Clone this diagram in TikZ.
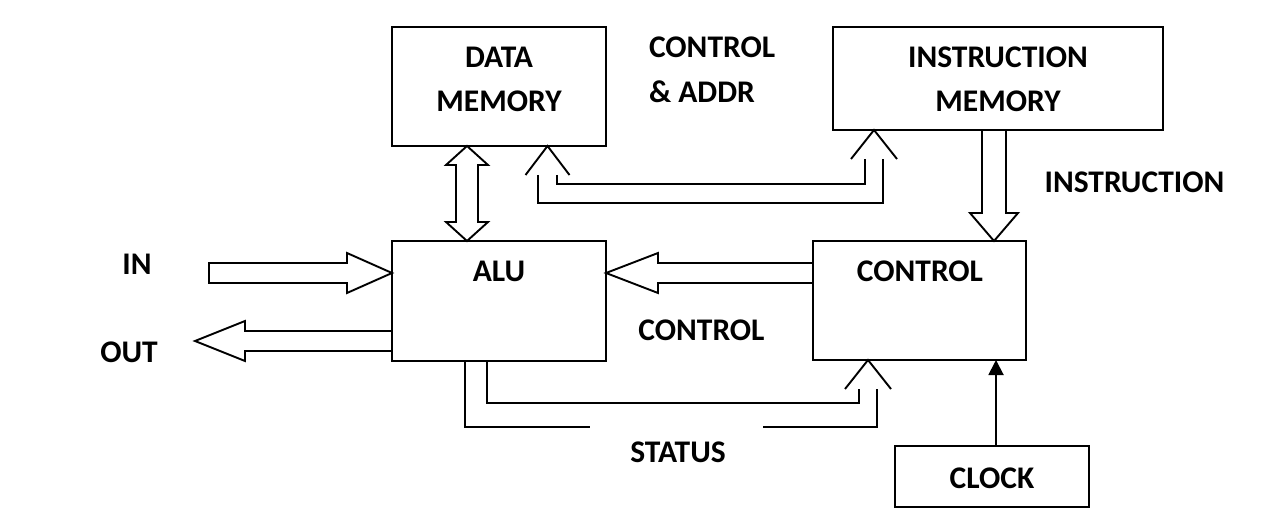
\documentclass[tikz,border=0pt]{standalone}
\usepackage{fontspec}
\setmainfont{Carlito}
\usetikzlibrary{calc,arrows.meta}
\tikzset{
  blk/.style={draw, line width=1.9pt, inner sep=0pt, outer sep=0pt},
  lbl/.style={inner sep=0pt, outer sep=0pt, anchor=base, font=\fontsize{31.5}{38}\selectfont\bfseries},
  lblw/.style={lbl, anchor=base west},
  wire/.style={line width=1.9pt},
}
\begin{document}
\begin{tikzpicture}[x=1pt,y=-1pt]
\useasboundingbox[fill=white] (0,0) rectangle (1273,518);
% boxes
\node[blk, minimum width=214pt, minimum height=119pt] (dm) at (499,86.5) {};
\node[blk, minimum width=330pt, minimum height=103pt] (im) at (998,78.5) {};
\node[blk, minimum width=214pt, minimum height=120pt] (alu) at (499,301) {};
\node[blk, minimum width=213pt, minimum height=119pt] (ctrl) at (919.5,300.5) {};
\node[blk, minimum width=194pt, minimum height=61pt] (clk) at (992,476.5) {};
% texts
\node[lbl] (dmt1) at (499,68) {DATA};
\node[lbl] (dmt2) at (499,112) {MEMORY};
\node[lbl] (imt1) at (998,68) {INSTRUCTION};
\node[lbl] (imt2) at (998,112) {MEMORY};
\node[lbl] (alut) at (499,282) {ALU};
\node[lbl] (ctrlt) at (920,282) {CONTROL};
\node[lbl] (clkt) at (992,488) {CLOCK};
\node[lblw] (ca1) at (649,58) {CONTROL};
\node[lblw] (ca2) at (649,103) {\&~ADDR};
\node[lbl] (inst) at (1134.5,193) {INSTRUCTION};
\node[lbl] (inl) at (137,275) {IN};
\node[lbl] (outl) at (129,362) {OUT};
\node[lbl] (ctl) at (701.5,340) {CONTROL};
\node[lbl] (stl) at (678,462) {STATUS};
% coordinates
\coordinate (dmA) at ($(dm.south west)+(75,0)$);
\coordinate (aluA) at ($(alu.north west)+(75,0)$);
\coordinate (dmT) at ($(dm.south west)+(155.5,0)$);
\coordinate (imT) at ($(im.south west)+(41,0)$);
\coordinate (ctT) at ($(ctrl.south west)+(55,0)$);
\coordinate (insT) at ($(ctrl.north west)+(181,0)$);
\coordinate (insS) at ($(im.south west)+(149,0)$);
\coordinate (inT) at ($(alu.west)+(0,-28)$);
\coordinate (outS) at ($(alu.west)+(0,30)$);
\coordinate (caT) at ($(alu.east)+(0,-28)$);
\coordinate (caS) at ($(ctrl.west)+(0,-37.5)$);
\coordinate (stS) at ($(alu.south west)+(73,0)$);
\coordinate (clkS) at ($(clk.north)+(4,0)$);
\coordinate (clkT) at ($(ctrl.south west)+(183,0)$);
% data memory <-> ALU
\draw[wire] (dmA) -- ++(21,19) -- ++(-10,0) -- ($(aluA)+(11,-19)$) -- ++(10,0) -- (aluA)
  -- ++(-21,-19) -- ++(10,0) -- ($(dmA)+(-11,19)$) -- ++(-10,0) -- cycle;
% control & addr
\draw[wire] ($(dmT)+(-22,29)$) -- (dmT) -- ++(22,29);
\draw[wire] ($(imT)+(-23,29)$) -- (imT) -- ++(23,29);
\draw[wire] ($(dmT)+(9.5,29)$) -- ++(0,9) -- ($(imT)+(-9,54)$) -- ++(0,-25);
\draw[wire] ($(dmT)+(-9.5,29)$) -- ++(0,28) -- ($(imT)+(9,73)$) -- ++(0,-44);
% instruction
\draw[wire] (insS) -- ++(0,83) -- ++(-12,0) -- (insT) -- ++(24,-28) -- ++(-12,0) -- ($(insS)+(24,0)$);
% IN
\draw[wire] (inT) -- ++(-45,-20) -- ++(0,10) -- ++(-138,0) -- ++(0,20) -- ++(138,0) -- ++(0,10) -- cycle;
% OUT
\draw[wire] (outS) -- ++(-147,0) -- ++(0,-10) -- ++(-50,20) -- ++(50,20) -- ++(0,-10) -- ++(147,0);
% control -> ALU
\draw[wire] (caS) -- ++(-155,0) -- ++(0,-10) -- (caT) -- ++(52,20) -- ++(0,-10) -- ++(155,0);
% status
\draw[wire] ($(ctT)+(-23,29)$) -- (ctT) -- ++(23,29);
\draw[wire] ($(stS)+(22,0)$) -- ++(0,42) -- ($(ctT)+(-9,43)$) -- ++(0,-14);
\draw[wire] (stS) -- ++(0,66) -- ++(125,0);
\draw[wire] ($(ctT)+(-105,67)$) -- ($(ctT)+(9,67)$) -- ++(0,-38);
% clock
\draw[wire, -{Triangle[length=15pt,width=15pt]}] (clkS) -- (clkT);
\end{tikzpicture}
\end{document}
